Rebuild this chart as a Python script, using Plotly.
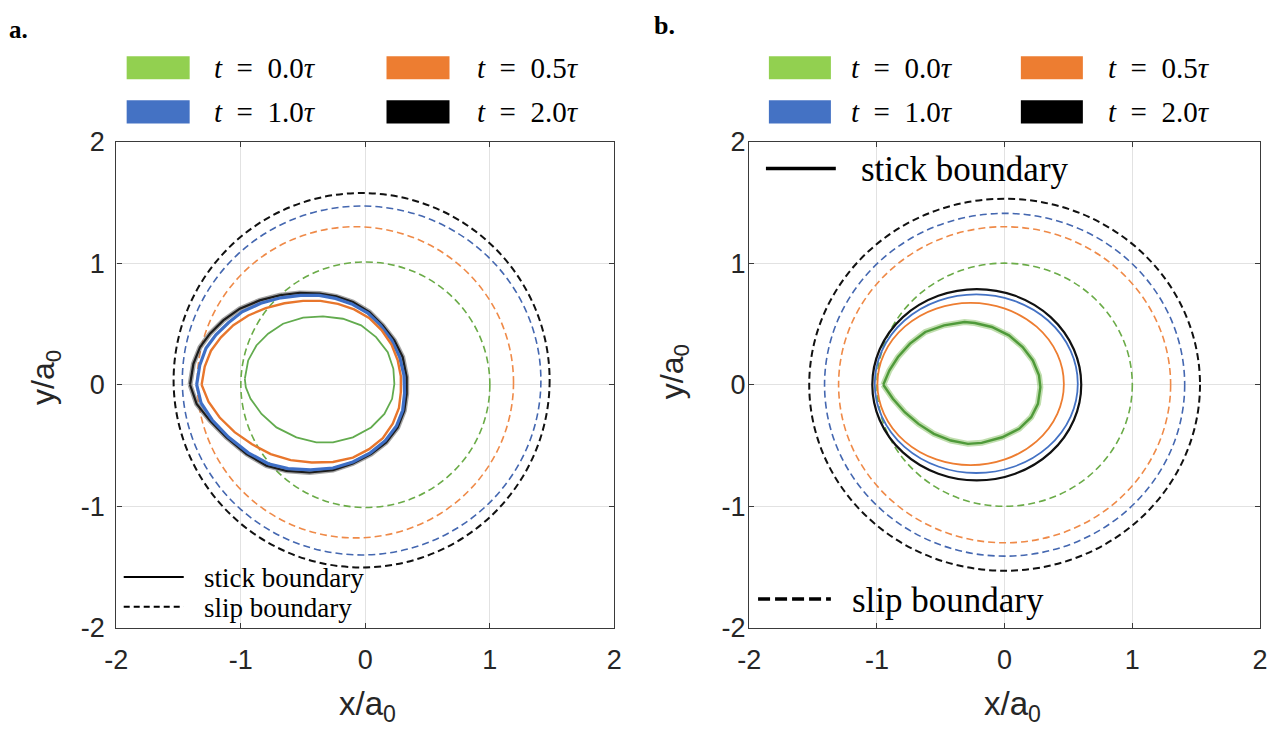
import plotly.graph_objects as go

# ---------------- data ----------------
time_labels = ["0.0", "0.5", "1.0", "2.0"]

# slip boundaries (dashed), panel a: ellipse centre and half-axes per time step
a_slip_cx = [0.0, -0.08, -0.03, -0.03]
a_slip_cy = [0.0, 0.02, 0.035, 0.037]
a_slip_rx = [1.0, 1.27, 1.44, 1.51]
a_slip_ry = [1.01, 1.28, 1.435, 1.54]

# slip boundaries (dashed), panel b: circles about the origin
b_slip_r = [1.0, 1.30, 1.41, 1.53]

# stick boundaries, panel b (t = 0.5, 1.0, 2.0): ellipse centre and half-axes
b_stick_cx = [-0.266, -0.222, -0.218]
b_stick_cy = [0.006, 0.009, 0.0]
b_stick_rx = [0.73, 0.795, 0.818]
b_stick_ry = [0.667, 0.735, 0.787]

# stick boundaries, panel a
a_stick_t00_x = [-0.968, -0.941, -0.875, -0.781, -0.661, -0.500, -0.340, -0.180, -0.034, 0.086,
                 0.180, 0.225, 0.233, 0.215, 0.153, 0.046, -0.100, -0.260, -0.394, -0.554,
                 -0.714, -0.834, -0.922, -0.960, -0.968]
a_stick_t00_y = [0.049, 0.200, 0.323, 0.420, 0.502, 0.552, 0.562, 0.543, 0.488, 0.392,
                 0.268, 0.131, 0.007, -0.116, -0.240, -0.351, -0.433, -0.474, -0.474, -0.433,
                 -0.351, -0.240, -0.116, -0.021, 0.049]

a_stick_t05_x = [-1.315, -1.29, -1.24, -1.16, -1.06, -0.94, -0.80, -0.65, -0.50, -0.36,
                 -0.22, -0.09, 0.03, 0.13, 0.21, 0.26, 0.285, 0.285, 0.27, 0.22,
                 0.14, 0.03, -0.10, -0.26, -0.43, -0.60, -0.76, -0.91, -1.05, -1.17,
                 -1.26, -1.315]
a_stick_t05_y = [0.0, 0.15, 0.28, 0.39, 0.49, 0.57, 0.63, 0.67, 0.69, 0.69,
                 0.665, 0.62, 0.55, 0.45, 0.33, 0.20, 0.07, -0.06, -0.19, -0.32,
                 -0.44, -0.53, -0.60, -0.635, -0.64, -0.62, -0.57, -0.49, -0.39, -0.27,
                 -0.14, 0.0]

a_stick_t10_x = [-1.355, -1.33, -1.28, -1.20, -1.10, -0.99, -0.84, -0.68, -0.52, -0.37,
                 -0.24, -0.11, 0.02, 0.12, 0.21, 0.275, 0.31, 0.315, 0.30, 0.25,
                 0.16, 0.04, -0.10, -0.26, -0.44, -0.62, -0.78, -0.94, -1.10, -1.23,
                 -1.32, -1.355]
a_stick_t10_y = [0.0, 0.16, 0.30, 0.41, 0.51, 0.60, 0.67, 0.715, 0.735, 0.735,
                 0.71, 0.665, 0.59, 0.49, 0.37, 0.23, 0.08, -0.07, -0.21, -0.34,
                 -0.46, -0.56, -0.635, -0.685, -0.70, -0.69, -0.65, -0.56, -0.43, -0.29,
                 -0.15, 0.0]

a_stick_t20_x = [-1.408, -1.381, -1.328, -1.248, -1.141, -1.008, -0.848, -0.688, -0.528, -0.367,
                 -0.234, -0.100, 0.033, 0.140, 0.233, 0.300, 0.332, 0.332, 0.313, 0.260,
                 0.167, 0.046, -0.100, -0.260, -0.448, -0.634, -0.794, -0.954, -1.115, -1.248,
                 -1.355, -1.408]
a_stick_t20_y = [0.0, 0.172, 0.309, 0.420, 0.529, 0.626, 0.694, 0.736, 0.755, 0.750,
                 0.727, 0.680, 0.598, 0.488, 0.365, 0.227, 0.062, -0.075, -0.213, -0.351,
                 -0.474, -0.570, -0.647, -0.702, -0.722, -0.708, -0.666, -0.570, -0.433, -0.295,
                 -0.158, 0.0]

# stick boundary, panel b, t = 0.0
b_stick_t00_x = [-0.950, -0.902, -0.835, -0.741, -0.621, -0.474, -0.314, -0.233, -0.100, 0.034,
                 0.141, 0.221, 0.269, 0.280, 0.261, 0.208, 0.114, -0.019, -0.180, -0.287,
                 -0.421, -0.554, -0.675, -0.782, -0.875, -0.929, -0.950]
b_stick_t00_y = [0.0, 0.118, 0.228, 0.338, 0.434, 0.489, 0.516, 0.508, 0.475, 0.406,
                 0.310, 0.200, 0.077, -0.020, -0.157, -0.267, -0.363, -0.432, -0.478, -0.486,
                 -0.459, -0.404, -0.322, -0.226, -0.115, -0.033, 0.0]

tick_vals = [-2, -1, 0, 1, 2]
tick_text = ["-2", "-1", "0", "1", "2"]

# ---------------- styles ----------------
W, H = 1270, 734
LEG_COL = ["#92d050", "#ed7d31", "#4472c4", "#000000"]
DASH_COL = ["#6aab47", "#ef8a48", "#4467b0", "#111111"]
SERIF = "Liberation Serif"
SANS = "Liberation Sans"
TXT = "#262626"


def px(x):
    return x / W


def py(y):
    return 1 - y / H


fig = go.Figure()

# panel a stick boundaries
fig.add_trace(go.Scatter(x=a_stick_t20_x, y=a_stick_t20_y, mode="lines", xaxis="x", yaxis="y",
                         line=dict(color="rgba(90,90,90,0.55)", width=5), hoverinfo="skip"))
fig.add_trace(go.Scatter(x=a_stick_t20_x, y=a_stick_t20_y, mode="lines", xaxis="x", yaxis="y",
                         line=dict(color="#1c1c1c", width=2.2)))
fig.add_trace(go.Scatter(x=a_stick_t10_x, y=a_stick_t10_y, mode="lines", xaxis="x", yaxis="y",
                         line=dict(color="#3e6fc6", width=3.2)))
fig.add_trace(go.Scatter(x=a_stick_t05_x, y=a_stick_t05_y, mode="lines", xaxis="x", yaxis="y",
                         line=dict(color="#e8762c", width=2.4)))
fig.add_trace(go.Scatter(x=a_stick_t00_x, y=a_stick_t00_y, mode="lines", xaxis="x", yaxis="y",
                         line=dict(color="#62ab4e", width=1.8)))

# panel b stick boundary at t = 0.0 (soft halo under a thicker core)
fig.add_trace(go.Scatter(x=b_stick_t00_x, y=b_stick_t00_y, mode="lines", xaxis="x2", yaxis="y2",
                         line=dict(color="rgba(150,200,120,0.6)", width=6), hoverinfo="skip"))
fig.add_trace(go.Scatter(x=b_stick_t00_x, y=b_stick_t00_y, mode="lines", xaxis="x2", yaxis="y2",
                         line=dict(color="#4f9a3a", width=2.4)))

shapes = []
# slip boundaries, panel a
for i in range(4):
    shapes.append(dict(type="circle", xref="x", yref="y", layer="between",
                       x0=a_slip_cx[i] - a_slip_rx[i], x1=a_slip_cx[i] + a_slip_rx[i],
                       y0=a_slip_cy[i] - a_slip_ry[i], y1=a_slip_cy[i] + a_slip_ry[i],
                       line=dict(color=DASH_COL[i], width=2 if i == 3 else 1.6, dash="7px,4px")))
# slip boundaries, panel b
for i in range(4):
    shapes.append(dict(type="circle", xref="x2", yref="y2", layer="between",
                       x0=-b_slip_r[i], x1=b_slip_r[i], y0=-b_slip_r[i], y1=b_slip_r[i],
                       line=dict(color=DASH_COL[i], width=2 if i == 3 else 1.6, dash="7px,4px")))
# stick boundaries, panel b (t = 0.5, 1.0, 2.0)
stick_b_col = ["#ed7d31", "#4472c4", "#111111"]
for i in range(3):
    shapes.append(dict(type="circle", xref="x2", yref="y2", layer="above",
                       x0=b_stick_cx[i] - b_stick_rx[i], x1=b_stick_cx[i] + b_stick_rx[i],
                       y0=b_stick_cy[i] - b_stick_ry[i], y1=b_stick_cy[i] + b_stick_ry[i],
                       line=dict(color=stick_b_col[i], width=1.8 if i < 2 else 2.2)))

annotations = []

# colour key at the top of each panel
key_rows = [(43, 67), (89, 113)]
key_layout = {
    "a": dict(box_x=[(116.5, 180.5), (380.5, 444.5)], text_x=[203, 470]),
    "b": dict(box_x=[(769, 832), (1025, 1088)], text_x=[850, 1111]),
}
key_order = [(0, 0, 0), (1, 0, 1), (2, 1, 0), (3, 1, 1)]  # (series, row, column)
for panel in ("a", "b"):
    kl = key_layout[panel]
    for s, r, c in key_order:
        x0, x1 = kl["box_x"][c]
        y0, y1 = key_rows[r]
        shapes.append(dict(type="rect", xref="paper", yref="paper",
                           x0=px(x0), x1=px(x1), y0=py(y1), y1=py(y0),
                           fillcolor=LEG_COL[s], line=dict(width=0)))
        annotations.append(dict(
            xref="paper", yref="paper", x=px(kl["text_x"][c]), y=py((y0 + y1) / 2),
            xanchor="left", yanchor="middle", showarrow=False,
            text="<i>t</i>&nbsp;&nbsp;=&nbsp;&nbsp;" + time_labels[s] + "<i>τ</i>",
            font=dict(family=SERIF, size=29, color="#000000")))

# panel letters
annotations.append(dict(xref="paper", yref="paper", x=px(-5), y=py(15), xanchor="left",
                        yanchor="middle", showarrow=False, text="<b>a.</b>",
                        font=dict(family=SERIF, size=25, color="#000")))
annotations.append(dict(xref="paper", yref="paper", x=px(650), y=py(11), xanchor="left",
                        yanchor="middle", showarrow=False, text="<b>b.</b>",
                        font=dict(family=SERIF, size=26, color="#000")))

# line-style keys inside the panels
line_keys = [
    # (x0, x1, y, width, dash, text_x, label, font size)
    (113.5, 174.5, 586, 2.0, "solid", 193, "stick boundary", 27),
    (113.5, 174.5, 617, 2.0, "6px,4px", 193, "slip boundary", 27),
    (766, 837, 160, 3.5, "solid", 861, "stick boundary", 35),
    (758, 832, 609, 3.5, "12px,5px", 851, "slip boundary", 35),
]
for x0, x1, y, w, dash, tx, label, fs in line_keys:
    shapes.append(dict(type="line", xref="paper", yref="paper", x0=px(x0), x1=px(x1),
                       y0=py(y), y1=py(y), line=dict(color="#000", width=w, dash=dash)))
    annotations.append(dict(xref="paper", yref="paper", x=px(tx), y=py(y + 1), xanchor="left",
                            yanchor="middle", showarrow=False, text=label,
                            font=dict(family=SERIF, size=fs, color="#000")))

# axis titles
for cx, cy in ((361, 720), (1017, 720)):
    annotations.append(dict(xref="paper", yref="paper", x=px(cx), y=py(cy), showarrow=False,
                            xanchor="center", yanchor="middle", text="x/a<sub>0</sub>",
                            font=dict(family=SANS, size=33, color=TXT)))
for cx, cy in ((34, 378), (673, 372)):
    annotations.append(dict(xref="paper", yref="paper", x=px(cx), y=py(cy), showarrow=False,
                            xanchor="center", yanchor="middle", text="y/a<sub>0</sub>",
                            textangle=-90, font=dict(family=SANS, size=32, color=TXT)))

axis_common = dict(range=[-2, 2], tickvals=tick_vals, ticktext=tick_text,
                   showgrid=True, gridcolor="#e2e2e2", gridwidth=1, zeroline=False,
                   showline=True, linecolor="#3a3a3a", linewidth=1.4, mirror="ticks",
                   ticks="inside", ticklen=5, tickcolor="#3a3a3a",
                   tickfont=dict(family=SANS, size=27, color=TXT), fixedrange=True)

y_dom = [py(639), py(132)]
fig.update_layout(
    width=W, height=H, autosize=False,
    margin=dict(l=0, r=0, t=0, b=0),
    paper_bgcolor="white", plot_bgcolor="white",
    showlegend=False,
    xaxis=dict(domain=[px(106), px(612)], anchor="y", ticklabelstandoff=8, **axis_common),
    yaxis=dict(domain=y_dom, anchor="x", ticklabelstandoff=5, **axis_common),
    xaxis2=dict(domain=[px(749), px(1268)], anchor="y2", ticklabelstandoff=8, **axis_common),
    yaxis2=dict(domain=y_dom, anchor="x2", ticklabelstandoff=-3, **axis_common),
    shapes=shapes,
    annotations=annotations,
)

fig.write_html("out.html")
